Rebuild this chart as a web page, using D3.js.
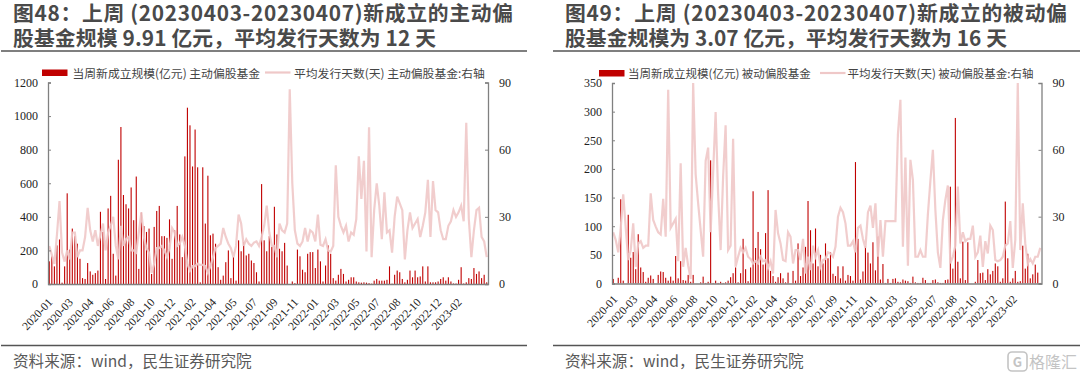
<!DOCTYPE html>
<html>
<head>
<meta charset="utf-8">
<script src="https://cdn.jsdelivr.net/npm/d3@7"></script>
<style>
  html, body { margin: 0; padding: 0; background: #fff; }
  svg { display: block; }
</style>
</head>
<body>
<svg id="chart" width="1080" height="376"></svg>
<script>
// tick labels, every 8th week
const tickLabels = ["2020-01","2020-03","2020-04","2020-06","2020-08","2020-10","2020-12","2021-02","2021-04","2021-05","2021-07","2021-09","2021-11","2022-01","2022-03","2022-05","2022-07","2022-08","2022-10","2022-12","2023-02"];

// 主动偏股基金
const activeSize = [
  135,165,105,230,265,8,105,540,205,330,
  285,240,150,35,30,125,75,55,65,80,
  430,310,30,450,525,180,50,740,935,530,
  475,450,575,380,640,90,425,345,310,330,
  60,340,435,465,285,285,275,385,150,320,
  465,295,160,760,1050,945,700,920,695,10,
  695,360,645,290,300,240,100,25,50,130,
  200,35,160,20,260,195,250,170,180,140,
  125,70,15,595,260,195,285,
  220,460,295,210,195,245,110,0,15,5,
  205,165,85,70,180,190,190,95,205,135,
  15,110,230,180,35,20,55,90,60,15,
  25,40,40,15,10,8,10,8,5,2,
  20,30,20,20,20,25,105,2,55,80,
  70,30,10,25,80,40,80,40,45,105,
  15,105,10,10,10,15,30,40,20,40,
  15,3,3,25,100,3,10,35,30,95,
  60,75,35,55,10
];
const activeDays = [
  17,13,9,22,37,14,10,15,11,23,
  23,12,15,15,21,34,24,19,24,17,
  22,27,15,23,26,30,17,11,26,17,
  20,21,15,15,14,23,32,21,16,14,
  5,9,16,16,17,15,12,16,25,23,
  17,18,21,17,9,6,8,8,9,8.5,
  8.5,8,5,8,12,16,17,18,25,21,
  18,16,12,17,31,27,17,20,18,17,
  18.5,19,17,21,26,35,23,
  17,17,12,27,24,23,27,87,45,24,
  18,17,19,25,19,24,23,19,31,17.5,
  17,20,15,14.5,17,53,30,26,23,26,
  19,23,22,29,57,38,55,14.5,70,12,
  33,45,35,20,41,23,24,14,30,39,
  36,33,11,24,32,25,27,29,21,26,
  32,46.5,21,46,33,32,24,20,20,26,
  28,33,30,32,35,28,72,29,12,24,
  33,34,21,19,12
];

// 被动偏股基金
const passiveSize = [
  8,0,10,147,5,0,120,45,55,25,
  86,28,20,3,10,14,8,0,15,21,
  20,10,5,12,5,48,9,39,6,5,
  15,3,15,0,0,2,12,1,3,215,
  1,5,1,3,1,2,5,11,18,28,
  2,18,78,25,4,28,161,62,90,60,
  33,88,163,22,13,3,11,18,9,2,
  19,0,22,5,70,13,28,64,144,
  93,35,96,30,50,35,70,44,55,17,
  13,30,9,30,5,15,13,5,212,78,
  7,21,65,54,35,72,23,82,7,34,
  1,8,1,8,9,3,2,7,5,4,
  1,12,2,1,1,10,6,1,1,6,
  7,2,1,1,6,7,169,26,289,38,
  9,73,6,72,0,0,3,41,18,19,
  6,25,16,22,35,30,3,9,143,44,
  3,9,22,3,4,66,26,52,9,16,
  33,19,1
];
const passiveDays = [
  23,19.5,14,25,40,25,10.5,15,27,7.5,
  18,19,16,17,17,40.5,28.5,25.5,23,22,
  38,21,87,25,27,29,10,54,7.5,16,
  8,2,90,49,36,24,12,55,61,23,
  50,77,40,15,48,71,15,17,65,7.5,
  12,16,14,16,12,11,9,10,9,12,
  10,10.5,7,10,4.5,33,22.5,18,10.5,10,
  23,21,9,15,15,10.5,20,4.5,12,
  6,17,12,15,7.5,10.5,11,14,13.5,12,
  16.5,30,34,32,27,17,17,19,14,25,
  26,20,16,32,35,25,36,12,28.5,12,
  28,28,28,28,28,67,82.5,16.5,56.5,8,
  55.5,46.5,12,12,15,12,12,31,46,60,
  33,14,7,28.5,37.5,44,9,12,17,43.5,
  18,23,19,20,20,26,12,14,21.5,7.5,
  19,13.5,26,24,10.5,10,10.5,12,17,18,
  28,7,19.5,90,15,36,18,9,11,9,
  12,12,16
];

const svg = d3.select("#chart");
const sans = "'Noto Sans CJK SC', 'Noto Sans', sans-serif";
const serif = "'Liberation Serif', serif";
const red = "#c00000";
const pink = "#efc8c8";
const gray = "#808080";

function drawPanel(p) {
  const g = svg.append("g");

  // title
  p.title.forEach((t, i) => {
    g.append("text")
      .attr("x", p.textX)
      .attr("y", 21 + i * 25)
      .attr("font-family", sans)
      .attr("font-weight", 700)
      .attr("font-size", 20.8)
      .attr("textLength", p.titleWidth[i])
      .attr("lengthAdjust", "spacing")
      .attr("fill", "#4a4a4a")
      .text(t);
  });
  g.append("line").attr("x1", p.ruleX[0]).attr("x2", p.ruleX[1]).attr("y1", 51).attr("y2", 51)
    .attr("stroke", "#555").attr("stroke-width", 1.5);

  // scales
  const x = d3.scaleBand().domain(d3.range(p.size.length)).range([p.left, p.right]);
  const y = d3.scaleLinear().domain([0, p.yMax]).range([p.bottom, p.top]);
  const y2 = d3.scaleLinear().domain([0, 90]).range([p.bottom, p.top]);

  // bars
  g.append("g").selectAll("rect")
    .data(p.size)
    .join("rect")
    .attr("x", (d, i) => x(i) + x.bandwidth() / 2 - 0.55)
    .attr("width", 1.1)
    .attr("y", d => y(d))
    .attr("height", d => p.bottom - y(d))
    .attr("fill", red);

  // line
  const line = d3.line().x((d, i) => x(i) + x.bandwidth() / 2).y(d => y2(d));
  g.append("path")
    .datum(p.days)
    .attr("d", line)
    .attr("fill", "none")
    .attr("stroke", pink)
    .attr("stroke-width", 2.2)
    .attr("stroke-opacity", 0.9);

  // axes
  const styleAxis = a => {
    a.select(".domain").attr("stroke", gray).attr("stroke-width", 1.3);
    a.selectAll(".tick line").attr("stroke", gray).attr("stroke-width", 1);
    a.selectAll("text").attr("font-family", serif).attr("fill", "#222");
  };
  const leftAxis = g.append("g")
    .attr("transform", `translate(${p.left},0)`)
    .call(d3.axisLeft(y).tickValues(p.yTicks).tickFormat(d3.format("d")).tickSize(-3).tickPadding(10));
  styleAxis(leftAxis);
  leftAxis.selectAll("text").attr("font-size", 12);

  const rightAxis = g.append("g")
    .attr("transform", `translate(${p.right},0)`)
    .call(d3.axisRight(y2).tickValues([0, 30, 60, 90]).tickSize(-3).tickPadding(11));
  styleAxis(rightAxis);
  rightAxis.selectAll("text").attr("font-size", 12);

  const bottomAxis = g.append("g")
    .attr("transform", `translate(0,${p.bottom})`)
    .call(d3.axisBottom(x)
      .tickValues(tickLabels.map((d, i) => i * 8))
      .tickFormat((d, i) => tickLabels[i])
      .tickSize(0));
  styleAxis(bottomAxis);
  bottomAxis.selectAll("text")
    .attr("font-size", 11.5)
    .attr("text-anchor", "end")
    .attr("x", 0)
    .attr("y", 0)
    .attr("dy", "0.35em")
    .attr("transform", `translate(${p.labelShift[0]},${p.labelShift[1]}) rotate(-47)`);

  // legend
  const legend = g.append("g").attr("font-family", sans).attr("font-size", p.legendFont).attr("fill", "#444");
  legend.append("rect").attr("x", p.legend[0]).attr("y", p.legendY - 8).attr("width", 25.5).attr("height", 6.5).attr("fill", red);
  legend.append("text").attr("x", p.legend[1]).attr("y", p.legendY).text(p.names[0]);
  legend.append("line").attr("x1", p.legend[2]).attr("x2", p.legend[2] + 25.5).attr("y1", p.legendY - 5).attr("y2", p.legendY - 5)
    .attr("stroke", pink).attr("stroke-width", 2.2);
  legend.append("text").attr("x", p.legend[3]).attr("y", p.legendY).text(p.names[1]);

  // source
  g.append("line").attr("x1", p.ruleX[0]).attr("x2", p.ruleX[1]).attr("y1", 345.5).attr("y2", 345.5)
    .attr("stroke", "#555").attr("stroke-width", 1.5);
  g.append("text")
    .attr("x", p.textX)
    .attr("y", 366.5)
    .attr("font-family", sans)
    .attr("font-size", 15.6)
    .attr("fill", "#595959")
    .text("资料来源：wind，民生证券研究院");
}

drawPanel({
  title: ["图48：上周 (20230403-20230407)新成立的主动偏", "股基金规模 9.91 亿元，平均发行天数为 12 天"],
  titleWidth: [500, 423],
  textX: 13, ruleX: [1, 527],
  left: 48, right: 488, top: 82.5, bottom: 284,
  size: activeSize, days: activeDays, yMax: 1200, yTicks: [0, 200, 400, 600, 800, 1000, 1200],
  labelShift: [1, 16],
  legend: [42, 72.5, 265, 294], legendY: 77.5, legendFont: 11.8,
  names: ["当周新成立规模(亿元) 主动偏股基金", "平均发行天数(天) 主动偏股基金:右轴"]
});

drawPanel({
  title: ["图49：上周 (20230403-20230407)新成立的被动偏", "股基金规模为 3.07 亿元，平均发行天数为 16 天"],
  titleWidth: [502, 442],
  textX: 565, ruleX: [553, 1080],
  left: 612, right: 1041.5, top: 83, bottom: 283.5,
  size: passiveSize, days: passiveDays, yMax: 350, yTicks: [0, 50, 100, 150, 200, 250, 300, 350],
  labelShift: [2, 13.5],
  legend: [599, 628, 820, 847.5], legendY: 78, legendFont: 11.5,
  names: ["当周新成立规模(亿元) 被动偏股基金", "平均发行天数(天) 被动偏股基金:右轴"]
});

// watermark
const mark = svg.append("g").attr("fill", "#c4c4c4");
mark.append("rect").attr("x", 1008).attr("y", 352).attr("width", 19).attr("height", 19).attr("rx", 4)
  .attr("fill", "none").attr("stroke", "#c4c4c4").attr("stroke-width", 1.6);
mark.append("text").attr("x", 1017.5).attr("y", 366.5).attr("text-anchor", "middle")
  .attr("font-family", sans).attr("font-size", 13).attr("font-weight", 700).text("G");
mark.append("text").attr("x", 1029).attr("y", 368).attr("font-family", sans).attr("font-size", 16)
  .text("格隆汇");
</script>
</body>
</html>
